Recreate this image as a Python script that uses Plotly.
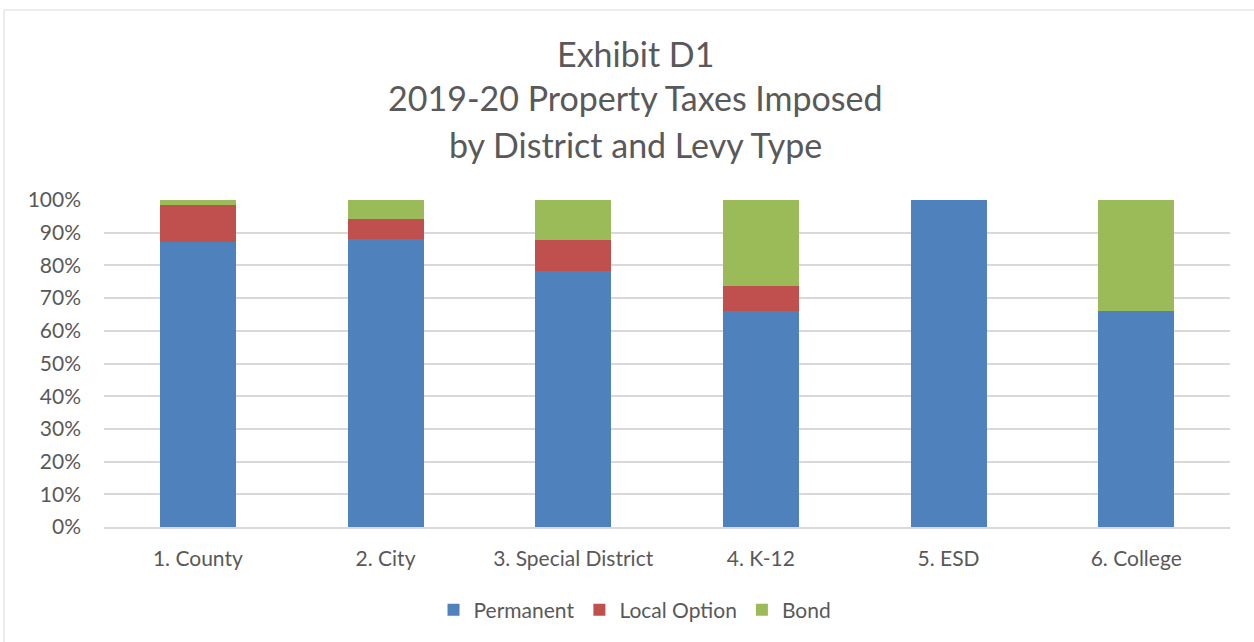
import plotly.graph_objects as go

categories = ["1. County", "2. City", "3. Special District", "4. K-12", "5. ESD", "6. College"]
permanent = [87.1, 88.0, 78.3, 66.1, 100.0, 66.2]
local_option = [11.4, 6.3, 9.6, 7.7, 0.0, 0.0]
bond = [1.5, 5.7, 12.1, 26.2, 0.0, 33.8]

series = [
    ("Permanent", permanent, "#4f81bd"),
    ("Local Option", local_option, "#c0504d"),
    ("Bond", bond, "#9bbb59"),
]

FONT = "Lato"
GRAY = "#595959"

fig = go.Figure()
for name, vals, color in series:
    fig.add_trace(go.Bar(
        name=name, x=categories, y=[v / 100 for v in vals],
        marker=dict(color=color, line=dict(width=0)),
    ))

title_lines = ["Exhibit D1", "2019-20 Property Taxes Imposed", "by District and Levy Type"]
title_y = [1.449, 1.312, 1.171]
for txt, yy in zip(title_lines, title_y):
    fig.add_annotation(text=txt, xref="paper", yref="paper", x=0.4716, y=yy,
                       xanchor="center", yanchor="middle", showarrow=False,
                       font=dict(family=FONT, size=34, color=GRAY))

# outer chart frame
fig.add_shape(type="rect", xref="paper", yref="paper",
              x0=-0.0888, x1=1.05, y0=-0.5, y1=1.581,
              line=dict(color="#d9d9d9", width=1))

fig.update_layout(
    barmode="stack",
    bargap=0.595,
    width=1254, height=642,
    margin=dict(l=104, r=24, t=200, b=115),
    paper_bgcolor="white", plot_bgcolor="white",
    font=dict(family=FONT, size=21, color=GRAY),
    showlegend=True,
    legend=dict(orientation="h", x=0.4716, xanchor="center", y=-0.254, yanchor="middle",
                font=dict(family=FONT, size=21, color=GRAY), itemwidth=30,
                traceorder="normal"),
    xaxis=dict(showgrid=False, showline=True, linecolor="#d9d9d9", linewidth=1.5,
               tickfont=dict(family=FONT, size=21, color=GRAY), ticks="",
               ticklabelstandoff=12),
    yaxis=dict(range=[0, 1], tickformat=".0%", dtick=0.1, showgrid=True,
               gridcolor="#d9d9d9", gridwidth=1.5, zeroline=False, showline=False,
               tickfont=dict(family=FONT, size=21, color=GRAY), ticklabelstandoff=22),
)

fig.write_html("out.html")
